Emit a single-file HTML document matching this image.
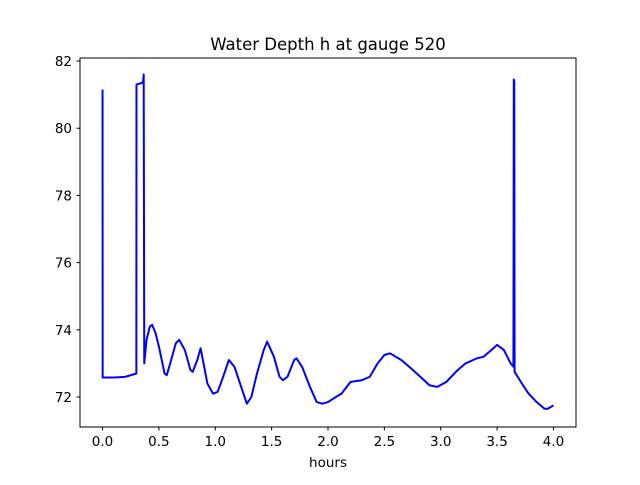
<!DOCTYPE html>
<html><head><meta charset="utf-8"><style>
body{margin:0;background:#fff;}
svg text{font-family:"DejaVu Sans","Liberation Sans",sans-serif;}
</style></head><body>
<svg width="640" height="480" xmlns="http://www.w3.org/2000/svg">
<rect width="640" height="480" fill="#fff"/>
<text x="328" y="50" font-size="16.5" text-anchor="middle">Water Depth h at gauge 520</text>
<g id="axes"></g>
<rect x="80" y="58" width="496" height="369" fill="none" stroke="#000" stroke-width="1"/>
<text x="328" y="467" font-size="13.5" text-anchor="middle">hours</text>
</svg>
<script>
const xTicks=[0,0.5,1,1.5,2,2.5,3,3.5,4];
const xTickLabels=["0.0","0.5","1.0","1.5","2.0","2.5","3.0","3.5","4.0"];
const yTicks=[72,74,76,78,80,82];
const yTickLabels=["72","74","76","78","80","82"];
const hours=[0,0.001,0.1,0.2,0.3,0.301,0.35,0.36,0.365,0.37,0.39,0.42,0.44,0.47,0.5,0.55,0.57,0.6,0.65,0.68,0.73,0.78,0.8,0.84,0.87,0.93,0.98,1.02,1.07,1.12,1.17,1.24,1.28,1.32,1.37,1.43,1.46,1.52,1.57,1.6,1.64,1.7,1.72,1.77,1.84,1.9,1.95,2.0,2.07,2.12,2.2,2.3,2.37,2.44,2.5,2.55,2.6,2.65,2.72,2.82,2.9,2.97,3.05,3.15,3.22,3.32,3.38,3.45,3.5,3.56,3.62,3.645,3.648,3.652,3.655,3.72,3.78,3.85,3.92,3.95,4.0];
const depth=[81.15,72.58,72.58,72.6,72.7,81.3,81.35,81.4,81.6,73.0,73.7,74.1,74.15,73.9,73.5,72.7,72.65,73.0,73.6,73.7,73.4,72.8,72.75,73.1,73.45,72.4,72.1,72.15,72.6,73.1,72.9,72.2,71.8,72.0,72.7,73.4,73.65,73.2,72.6,72.5,72.6,73.1,73.15,72.9,72.3,71.85,71.8,71.85,72.0,72.1,72.45,72.5,72.6,73.0,73.25,73.3,73.2,73.1,72.9,72.6,72.35,72.3,72.45,72.8,73.0,73.15,73.2,73.4,73.55,73.4,73.0,72.9,81.45,81.4,72.75,72.4,72.1,71.85,71.65,71.65,71.75];
const X=v=>80+(v+0.2)/4.4*496;
const Y=v=>427-(v-71.107)/(82.09-71.107)*369;
const NS="http://www.w3.org/2000/svg";
const g=document.getElementById('axes');
function mk(t,a){const e=document.createElementNS(NS,t);for(const k in a)e.setAttribute(k,a[k]);g.appendChild(e);return e;}
xTicks.forEach((v,i)=>{
 const l=mk('line',{x1:X(v),x2:X(v),y1:427,y2:430.5,stroke:'#000'});
 
 
 const t=mk('text',{x:X(v),y:446,'font-size':13.5,'text-anchor':'middle'});
 t.textContent=xTickLabels[i];
 
 
});
yTicks.forEach((v,i)=>{
 const l=mk('line',{x1:76.5,x2:80,y1:Y(v),y2:Y(v),stroke:'#000'});
 
 
 const t=mk('text',{x:72,y:Y(v)+5,'font-size':13.5,'text-anchor':'end'});
 t.textContent=yTickLabels[i];
 
 
});
const p=mk('polyline',{points:hours.map((h,i)=>X(h)+','+Y(depth[i])).join(' '),fill:'none',stroke:'#0000ff','stroke-width':2,'stroke-linejoin':'round'});


</script>
</body></html>
